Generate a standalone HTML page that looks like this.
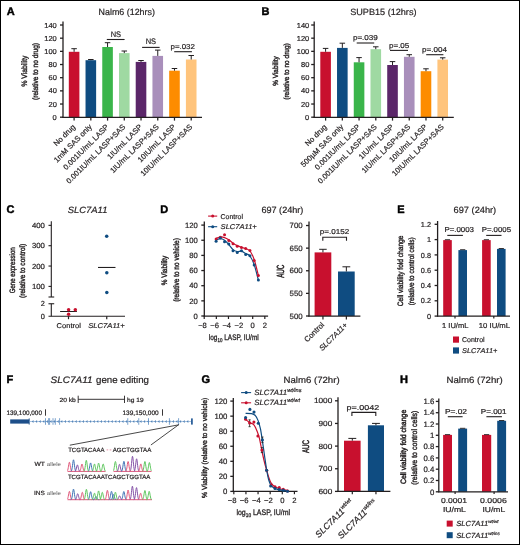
<!DOCTYPE html>
<html><head><meta charset="utf-8"><title>Figure</title>
<style>
html,body{margin:0;padding:0;background:#fff;overflow:hidden;}
svg{display:block;will-change:transform;}
text{font-family:"Liberation Sans", sans-serif;text-rendering:geometricPrecision;}
</style></head><body>
<svg width="520" height="545" viewBox="0 0 520 545">
<rect x="0" y="0" width="520" height="545" fill="#fff"/>
<g fill="#231f20">
<text x="6.8" y="14.8" font-weight="bold" font-size="11" fill="#000" stroke="#000" stroke-width="0.45">A</text>
<text x="98.6" y="15.1" stroke="#231f20" stroke-width="0.2" textLength="56.3" lengthAdjust="spacingAndGlyphs" font-size="9">Nalm6 (12hrs)</text>
<rect x="68.8" y="51.8" width="10.6" height="65.4" fill="#c8102e"/>
<line x1="74.1" y1="51.8" x2="74.1" y2="48.7" stroke="#231f20" stroke-width="1" />
<line x1="71.35" y1="48.7" x2="76.85" y2="48.7" stroke="#231f20" stroke-width="1" />
<rect x="85.53" y="60.2" width="10.6" height="57" fill="#0f4c81"/>
<line x1="90.83" y1="60.2" x2="90.83" y2="59.5" stroke="#231f20" stroke-width="1" />
<line x1="88.08" y1="59.5" x2="93.58" y2="59.5" stroke="#231f20" stroke-width="1" />
<rect x="102.26" y="47" width="10.6" height="70.2" fill="#3ab54a"/>
<line x1="107.56" y1="47" x2="107.56" y2="42.7" stroke="#231f20" stroke-width="1" />
<line x1="104.81" y1="42.7" x2="110.31" y2="42.7" stroke="#231f20" stroke-width="1" />
<rect x="118.99" y="53.1" width="10.6" height="64.1" fill="#9fd9a2"/>
<line x1="124.29" y1="53.1" x2="124.29" y2="51" stroke="#231f20" stroke-width="1" />
<line x1="121.54" y1="51" x2="127.04" y2="51" stroke="#231f20" stroke-width="1" />
<rect x="135.72" y="61.9" width="10.6" height="55.3" fill="#5b2669"/>
<line x1="141.02" y1="61.9" x2="141.02" y2="60.5" stroke="#231f20" stroke-width="1" />
<line x1="138.27" y1="60.5" x2="143.77" y2="60.5" stroke="#231f20" stroke-width="1" />
<rect x="152.45" y="55.9" width="10.6" height="61.3" fill="#a98fbb"/>
<line x1="157.75" y1="55.9" x2="157.75" y2="50.1" stroke="#231f20" stroke-width="1" />
<line x1="155" y1="50.1" x2="160.5" y2="50.1" stroke="#231f20" stroke-width="1" />
<rect x="169.18" y="70.7" width="10.6" height="46.5" fill="#fd8c00"/>
<line x1="174.48" y1="70.7" x2="174.48" y2="68.5" stroke="#231f20" stroke-width="1" />
<line x1="171.73" y1="68.5" x2="177.23" y2="68.5" stroke="#231f20" stroke-width="1" />
<rect x="185.91" y="59.5" width="10.6" height="57.7" fill="#ffc47c"/>
<line x1="191.21" y1="59.5" x2="191.21" y2="55.5" stroke="#231f20" stroke-width="1" />
<line x1="188.46" y1="55.5" x2="193.96" y2="55.5" stroke="#231f20" stroke-width="1" />
<line x1="63" y1="21.5" x2="63" y2="117.7" stroke="#231f20" stroke-width="1.3" />
<line x1="60" y1="117.2" x2="63" y2="117.2" stroke="#231f20" stroke-width="1.3" />
<text x="56.8" y="119.78" text-anchor="end" stroke="#231f20" stroke-width="0.2" textLength="4.16" lengthAdjust="spacingAndGlyphs" font-size="7.2">0</text>
<line x1="60" y1="104.03" x2="63" y2="104.03" stroke="#231f20" stroke-width="1.3" />
<text x="56.8" y="106.61" text-anchor="end" stroke="#231f20" stroke-width="0.2" textLength="8.33" lengthAdjust="spacingAndGlyphs" font-size="7.2">20</text>
<line x1="60" y1="90.86" x2="63" y2="90.86" stroke="#231f20" stroke-width="1.3" />
<text x="56.8" y="93.44" text-anchor="end" stroke="#231f20" stroke-width="0.2" textLength="8.33" lengthAdjust="spacingAndGlyphs" font-size="7.2">40</text>
<line x1="60" y1="77.69" x2="63" y2="77.69" stroke="#231f20" stroke-width="1.3" />
<text x="56.8" y="80.27" text-anchor="end" stroke="#231f20" stroke-width="0.2" textLength="8.33" lengthAdjust="spacingAndGlyphs" font-size="7.2">60</text>
<line x1="60" y1="64.52" x2="63" y2="64.52" stroke="#231f20" stroke-width="1.3" />
<text x="56.8" y="67.1" text-anchor="end" stroke="#231f20" stroke-width="0.2" textLength="8.33" lengthAdjust="spacingAndGlyphs" font-size="7.2">80</text>
<line x1="60" y1="51.35" x2="63" y2="51.35" stroke="#231f20" stroke-width="1.3" />
<text x="56.8" y="53.93" text-anchor="end" stroke="#231f20" stroke-width="0.2" textLength="12.49" lengthAdjust="spacingAndGlyphs" font-size="7.2">100</text>
<line x1="60" y1="38.18" x2="63" y2="38.18" stroke="#231f20" stroke-width="1.3" />
<text x="56.8" y="40.76" text-anchor="end" stroke="#231f20" stroke-width="0.2" textLength="12.49" lengthAdjust="spacingAndGlyphs" font-size="7.2">120</text>
<line x1="60" y1="25.01" x2="63" y2="25.01" stroke="#231f20" stroke-width="1.3" />
<text x="56.8" y="27.59" text-anchor="end" stroke="#231f20" stroke-width="0.2" textLength="12.49" lengthAdjust="spacingAndGlyphs" font-size="7.2">140</text>
<line x1="62.35" y1="117.4" x2="202" y2="117.4" stroke="#231f20" stroke-width="1.25" />
<line x1="74.1" y1="117.2" x2="74.1" y2="120.6" stroke="#231f20" stroke-width="1.25" />
<text transform="translate(75.7 127.4) rotate(-45)" text-anchor="end" stroke="#231f20" stroke-width="0.2" font-size="7.6">No drug</text>
<line x1="90.83" y1="117.2" x2="90.83" y2="120.6" stroke="#231f20" stroke-width="1.25" />
<text transform="translate(92.43 127.4) rotate(-45)" text-anchor="end" stroke="#231f20" stroke-width="0.2" font-size="7.6">1mM SAS only</text>
<line x1="107.56" y1="117.2" x2="107.56" y2="120.6" stroke="#231f20" stroke-width="1.25" />
<text transform="translate(109.16 127.4) rotate(-45)" text-anchor="end" stroke="#231f20" stroke-width="0.2" font-size="7.6">0.001IU/mL LASP</text>
<line x1="124.29" y1="117.2" x2="124.29" y2="120.6" stroke="#231f20" stroke-width="1.25" />
<text transform="translate(125.89 127.4) rotate(-45)" text-anchor="end" stroke="#231f20" stroke-width="0.2" font-size="7.6">0.001IU/mL LASP+SAS</text>
<line x1="141.02" y1="117.2" x2="141.02" y2="120.6" stroke="#231f20" stroke-width="1.25" />
<text transform="translate(142.62 127.4) rotate(-45)" text-anchor="end" stroke="#231f20" stroke-width="0.2" font-size="7.6">1IU/mL LASP</text>
<line x1="157.75" y1="117.2" x2="157.75" y2="120.6" stroke="#231f20" stroke-width="1.25" />
<text transform="translate(159.35 127.4) rotate(-45)" text-anchor="end" stroke="#231f20" stroke-width="0.2" font-size="7.6">1IU/mL LASP+SAS</text>
<line x1="174.48" y1="117.2" x2="174.48" y2="120.6" stroke="#231f20" stroke-width="1.25" />
<text transform="translate(176.08 127.4) rotate(-45)" text-anchor="end" stroke="#231f20" stroke-width="0.2" font-size="7.6">10IU/mL LASP</text>
<line x1="191.21" y1="117.2" x2="191.21" y2="120.6" stroke="#231f20" stroke-width="1.25" />
<text transform="translate(192.81 127.4) rotate(-45)" text-anchor="end" stroke="#231f20" stroke-width="0.2" font-size="7.6">10IU/mL LASP+SAS</text>
<text transform="translate(26.6 71) rotate(-90)" text-anchor="middle" stroke="#231f20" stroke-width="0.38" textLength="31" lengthAdjust="spacingAndGlyphs" font-size="7.9">% Viability</text>
<text transform="translate(37.9 71.5) rotate(-90)" text-anchor="middle" stroke="#231f20" stroke-width="0.38" textLength="57" lengthAdjust="spacingAndGlyphs" font-size="7.9">(relative to no drug)</text>
<text x="110.7" y="36.8" stroke="#231f20" stroke-width="0.2" textLength="10.4" lengthAdjust="spacingAndGlyphs" font-size="8">NS</text>
<line x1="106.8" y1="39.5" x2="124.6" y2="39.5" stroke="#231f20" stroke-width="1.1" />
<text x="145.7" y="44.2" stroke="#231f20" stroke-width="0.2" textLength="10.4" lengthAdjust="spacingAndGlyphs" font-size="8">NS</text>
<line x1="142.1" y1="47.4" x2="159.6" y2="47.4" stroke="#231f20" stroke-width="1.1" />
<text x="170.5" y="48.9" stroke="#231f20" stroke-width="0.2" textLength="24.4" lengthAdjust="spacingAndGlyphs" font-size="7.1">p=.032</text>
<line x1="174.2" y1="51.7" x2="191.9" y2="51.7" stroke="#231f20" stroke-width="1.1" />
<text x="261.5" y="14.9" font-weight="bold" font-size="11" fill="#000" stroke="#000" stroke-width="0.45">B</text>
<text x="350.2" y="15.3" stroke="#231f20" stroke-width="0.2" textLength="66.3" lengthAdjust="spacingAndGlyphs" font-size="9">SUPB15 (12hrs)</text>
<rect x="320.3" y="51.8" width="10.6" height="65.4" fill="#c8102e"/>
<line x1="325.6" y1="51.8" x2="325.6" y2="48.4" stroke="#231f20" stroke-width="1" />
<line x1="322.85" y1="48.4" x2="328.35" y2="48.4" stroke="#231f20" stroke-width="1" />
<rect x="337.03" y="47.9" width="10.6" height="69.3" fill="#0f4c81"/>
<line x1="342.33" y1="47.9" x2="342.33" y2="43.2" stroke="#231f20" stroke-width="1" />
<line x1="339.58" y1="43.2" x2="345.08" y2="43.2" stroke="#231f20" stroke-width="1" />
<rect x="353.76" y="62.3" width="10.6" height="54.9" fill="#3ab54a"/>
<line x1="359.06" y1="62.3" x2="359.06" y2="57.6" stroke="#231f20" stroke-width="1" />
<line x1="356.31" y1="57.6" x2="361.81" y2="57.6" stroke="#231f20" stroke-width="1" />
<rect x="370.49" y="49.2" width="10.6" height="68" fill="#9fd9a2"/>
<line x1="375.79" y1="49.2" x2="375.79" y2="46.8" stroke="#231f20" stroke-width="1" />
<line x1="373.04" y1="46.8" x2="378.54" y2="46.8" stroke="#231f20" stroke-width="1" />
<rect x="387.22" y="65" width="10.6" height="52.2" fill="#5b2669"/>
<line x1="392.52" y1="65" x2="392.52" y2="61.6" stroke="#231f20" stroke-width="1" />
<line x1="389.77" y1="61.6" x2="395.27" y2="61.6" stroke="#231f20" stroke-width="1" />
<rect x="403.95" y="56.8" width="10.6" height="60.4" fill="#a98fbb"/>
<line x1="409.25" y1="56.8" x2="409.25" y2="54.7" stroke="#231f20" stroke-width="1" />
<line x1="406.5" y1="54.7" x2="412" y2="54.7" stroke="#231f20" stroke-width="1" />
<rect x="420.68" y="71.2" width="10.6" height="46" fill="#fd8c00"/>
<line x1="425.98" y1="71.2" x2="425.98" y2="68.8" stroke="#231f20" stroke-width="1" />
<line x1="423.23" y1="68.8" x2="428.73" y2="68.8" stroke="#231f20" stroke-width="1" />
<rect x="437.41" y="59.6" width="10.6" height="57.6" fill="#ffc47c"/>
<line x1="442.71" y1="59.6" x2="442.71" y2="57.8" stroke="#231f20" stroke-width="1" />
<line x1="439.96" y1="57.8" x2="445.46" y2="57.8" stroke="#231f20" stroke-width="1" />
<line x1="314.2" y1="21.5" x2="314.2" y2="117.7" stroke="#231f20" stroke-width="1.3" />
<line x1="311.2" y1="117.2" x2="314.2" y2="117.2" stroke="#231f20" stroke-width="1.3" />
<text x="309.3" y="119.78" text-anchor="end" stroke="#231f20" stroke-width="0.2" textLength="4.16" lengthAdjust="spacingAndGlyphs" font-size="7.2">0</text>
<line x1="311.2" y1="104.03" x2="314.2" y2="104.03" stroke="#231f20" stroke-width="1.3" />
<text x="309.3" y="106.61" text-anchor="end" stroke="#231f20" stroke-width="0.2" textLength="8.33" lengthAdjust="spacingAndGlyphs" font-size="7.2">20</text>
<line x1="311.2" y1="90.86" x2="314.2" y2="90.86" stroke="#231f20" stroke-width="1.3" />
<text x="309.3" y="93.44" text-anchor="end" stroke="#231f20" stroke-width="0.2" textLength="8.33" lengthAdjust="spacingAndGlyphs" font-size="7.2">40</text>
<line x1="311.2" y1="77.69" x2="314.2" y2="77.69" stroke="#231f20" stroke-width="1.3" />
<text x="309.3" y="80.27" text-anchor="end" stroke="#231f20" stroke-width="0.2" textLength="8.33" lengthAdjust="spacingAndGlyphs" font-size="7.2">60</text>
<line x1="311.2" y1="64.52" x2="314.2" y2="64.52" stroke="#231f20" stroke-width="1.3" />
<text x="309.3" y="67.1" text-anchor="end" stroke="#231f20" stroke-width="0.2" textLength="8.33" lengthAdjust="spacingAndGlyphs" font-size="7.2">80</text>
<line x1="311.2" y1="51.35" x2="314.2" y2="51.35" stroke="#231f20" stroke-width="1.3" />
<text x="309.3" y="53.93" text-anchor="end" stroke="#231f20" stroke-width="0.2" textLength="12.49" lengthAdjust="spacingAndGlyphs" font-size="7.2">100</text>
<line x1="311.2" y1="38.18" x2="314.2" y2="38.18" stroke="#231f20" stroke-width="1.3" />
<text x="309.3" y="40.76" text-anchor="end" stroke="#231f20" stroke-width="0.2" textLength="12.49" lengthAdjust="spacingAndGlyphs" font-size="7.2">120</text>
<line x1="311.2" y1="25.01" x2="314.2" y2="25.01" stroke="#231f20" stroke-width="1.3" />
<text x="309.3" y="27.59" text-anchor="end" stroke="#231f20" stroke-width="0.2" textLength="12.49" lengthAdjust="spacingAndGlyphs" font-size="7.2">140</text>
<line x1="313.55" y1="117.4" x2="453.8" y2="117.4" stroke="#231f20" stroke-width="1.25" />
<line x1="325.6" y1="117.2" x2="325.6" y2="120.6" stroke="#231f20" stroke-width="1.25" />
<text transform="translate(327.2 127.4) rotate(-45)" text-anchor="end" stroke="#231f20" stroke-width="0.2" font-size="7.6">No drug</text>
<line x1="342.33" y1="117.2" x2="342.33" y2="120.6" stroke="#231f20" stroke-width="1.25" />
<text transform="translate(343.93 127.4) rotate(-45)" text-anchor="end" stroke="#231f20" stroke-width="0.2" font-size="7.6">500&#181;M SAS only</text>
<line x1="359.06" y1="117.2" x2="359.06" y2="120.6" stroke="#231f20" stroke-width="1.25" />
<text transform="translate(360.66 127.4) rotate(-45)" text-anchor="end" stroke="#231f20" stroke-width="0.2" font-size="7.6">0.001IU/mL LASP</text>
<line x1="375.79" y1="117.2" x2="375.79" y2="120.6" stroke="#231f20" stroke-width="1.25" />
<text transform="translate(377.39 127.4) rotate(-45)" text-anchor="end" stroke="#231f20" stroke-width="0.2" font-size="7.6">0.001IU/mL LASP+SAS</text>
<line x1="392.52" y1="117.2" x2="392.52" y2="120.6" stroke="#231f20" stroke-width="1.25" />
<text transform="translate(394.12 127.4) rotate(-45)" text-anchor="end" stroke="#231f20" stroke-width="0.2" font-size="7.6">1IU/mL LASP</text>
<line x1="409.25" y1="117.2" x2="409.25" y2="120.6" stroke="#231f20" stroke-width="1.25" />
<text transform="translate(410.85 127.4) rotate(-45)" text-anchor="end" stroke="#231f20" stroke-width="0.2" font-size="7.6">1IU/mL LASP+SAS</text>
<line x1="425.98" y1="117.2" x2="425.98" y2="120.6" stroke="#231f20" stroke-width="1.25" />
<text transform="translate(427.58 127.4) rotate(-45)" text-anchor="end" stroke="#231f20" stroke-width="0.2" font-size="7.6">10IU/mL LASP</text>
<line x1="442.71" y1="117.2" x2="442.71" y2="120.6" stroke="#231f20" stroke-width="1.25" />
<text transform="translate(444.31 127.4) rotate(-45)" text-anchor="end" stroke="#231f20" stroke-width="0.2" font-size="7.6">10IU/mL LASP+SAS</text>
<text transform="translate(277.8 71) rotate(-90)" text-anchor="middle" stroke="#231f20" stroke-width="0.38" textLength="29.5" lengthAdjust="spacingAndGlyphs" font-size="7.5">% Viability</text>
<text transform="translate(289 71.5) rotate(-90)" text-anchor="middle" stroke="#231f20" stroke-width="0.38" textLength="56.5" lengthAdjust="spacingAndGlyphs" font-size="7.5">(relative to no drug)</text>
<text x="352.9" y="40.3" stroke="#231f20" stroke-width="0.2" textLength="25" lengthAdjust="spacingAndGlyphs" font-size="7.1">p=.039</text>
<line x1="356.7" y1="43" x2="374.2" y2="43" stroke="#231f20" stroke-width="1.1" />
<text x="389" y="47.7" stroke="#231f20" stroke-width="0.2" textLength="20.3" lengthAdjust="spacingAndGlyphs" font-size="7.1">p=.05</text>
<line x1="390" y1="50.4" x2="408" y2="50.4" stroke="#231f20" stroke-width="1.1" />
<text x="422.1" y="52.3" stroke="#231f20" stroke-width="0.2" textLength="24.9" lengthAdjust="spacingAndGlyphs" font-size="7.1">p=.004</text>
<line x1="426.2" y1="54.7" x2="443.4" y2="54.7" stroke="#231f20" stroke-width="1.1" />
<text x="6.5" y="213.2" font-weight="bold" font-size="11" fill="#000" stroke="#000" stroke-width="0.45">C</text>
<text x="67.8" y="213.1" stroke="#231f20" stroke-width="0.2" font-style="italic" textLength="39.6" lengthAdjust="spacingAndGlyphs" font-size="9">SLC7A11</text>
<line x1="51.3" y1="221.2" x2="51.3" y2="297" stroke="#231f20" stroke-width="1.1" />
<line x1="48.5" y1="297" x2="54.2" y2="297" stroke="#231f20" stroke-width="1.1" />
<line x1="51.3" y1="303.75" x2="51.3" y2="316.25" stroke="#231f20" stroke-width="1.1" />
<line x1="48.5" y1="303.75" x2="54.2" y2="303.75" stroke="#231f20" stroke-width="1.1" />
<line x1="48.5" y1="286.4" x2="51.3" y2="286.4" stroke="#231f20" stroke-width="1.1" />
<text x="44.9" y="289.05" text-anchor="end" stroke="#231f20" stroke-width="0.2" textLength="12.96" lengthAdjust="spacingAndGlyphs" font-size="7.4">100</text>
<line x1="48.5" y1="266.05" x2="51.3" y2="266.05" stroke="#231f20" stroke-width="1.1" />
<text x="44.9" y="268.7" text-anchor="end" stroke="#231f20" stroke-width="0.2" textLength="12.96" lengthAdjust="spacingAndGlyphs" font-size="7.4">200</text>
<line x1="48.5" y1="245.7" x2="51.3" y2="245.7" stroke="#231f20" stroke-width="1.1" />
<text x="44.9" y="248.35" text-anchor="end" stroke="#231f20" stroke-width="0.2" textLength="12.96" lengthAdjust="spacingAndGlyphs" font-size="7.4">300</text>
<line x1="48.5" y1="225.35" x2="51.3" y2="225.35" stroke="#231f20" stroke-width="1.1" />
<text x="44.9" y="228" text-anchor="end" stroke="#231f20" stroke-width="0.2" textLength="12.96" lengthAdjust="spacingAndGlyphs" font-size="7.4">400</text>
<text x="44.9" y="306.4" text-anchor="end" stroke="#231f20" stroke-width="0.2" font-size="7.4">2</text>
<text x="44.9" y="318.9" text-anchor="end" stroke="#231f20" stroke-width="0.2" font-size="7.4">0</text>
<line x1="48.5" y1="316.25" x2="125" y2="316.25" stroke="#231f20" stroke-width="1.1" />
<line x1="68.5" y1="316.25" x2="68.5" y2="319.2" stroke="#231f20" stroke-width="1.2" />
<line x1="106.75" y1="316.25" x2="106.75" y2="319.2" stroke="#231f20" stroke-width="1.2" />
<text x="68.8" y="327.8" text-anchor="middle" stroke="#231f20" stroke-width="0.2" textLength="24.4" lengthAdjust="spacingAndGlyphs" font-size="7">Control</text>
<text x="106.5" y="327.8" text-anchor="middle" stroke="#231f20" stroke-width="0.2" font-style="italic" textLength="36.5" lengthAdjust="spacingAndGlyphs" font-size="7">SLC7A11+</text>
<line x1="60.1" y1="311.5" x2="76.9" y2="311.5" stroke="#231f20" stroke-width="1.05" />
<line x1="98" y1="267.45" x2="115.5" y2="267.45" stroke="#231f20" stroke-width="1.05" />
<circle cx="68.6" cy="309.8" r="1.75" fill="#c8102e"/>
<circle cx="75.3" cy="309.8" r="1.75" fill="#c8102e"/>
<circle cx="68.6" cy="314.3" r="1.75" fill="#c8102e"/>
<circle cx="106.7" cy="236.2" r="1.75" fill="#0f4c81"/>
<circle cx="106.8" cy="272.7" r="1.75" fill="#0f4c81"/>
<circle cx="106.8" cy="292.6" r="1.75" fill="#0f4c81"/>
<text transform="translate(14.5 270.3) rotate(-90)" text-anchor="middle" stroke="#231f20" stroke-width="0.38" textLength="45.9" lengthAdjust="spacingAndGlyphs" font-size="7.8">Gene expression</text>
<text transform="translate(25.4 270.9) rotate(-90)" text-anchor="middle" stroke="#231f20" stroke-width="0.38" textLength="54.1" lengthAdjust="spacingAndGlyphs" font-size="7.8">(relative to control)</text>
<text x="160.3" y="213" font-weight="bold" font-size="11" fill="#000" stroke="#000" stroke-width="0.45">D</text>
<text x="261.4" y="212.7" stroke="#231f20" stroke-width="0.2" textLength="42" lengthAdjust="spacingAndGlyphs" font-size="9">697 (24hr)</text>
<line x1="208.1" y1="216.1" x2="217.2" y2="216.1" stroke="#c8102e" stroke-width="1.1" />
<circle cx="212.7" cy="216.1" r="1.5" fill="#c8102e"/>
<text x="220.6" y="218.6" stroke="#231f20" stroke-width="0.2" textLength="22.4" lengthAdjust="spacingAndGlyphs" font-size="7">Control</text>
<line x1="208.1" y1="226.7" x2="217.2" y2="226.7" stroke="#0f4c81" stroke-width="1.1" />
<circle cx="212.7" cy="226.7" r="1.5" fill="#0f4c81"/>
<text x="220.6" y="229.2" stroke="#231f20" stroke-width="0.2" font-style="italic" textLength="36.2" lengthAdjust="spacingAndGlyphs" font-size="7">SLC7A11+</text>
<line x1="204.3" y1="221.4" x2="204.3" y2="316.5" stroke="#231f20" stroke-width="1.3" />
<line x1="201.3" y1="316" x2="204.3" y2="316" stroke="#231f20" stroke-width="1.3" />
<text x="197.9" y="318.76" text-anchor="end" stroke="#231f20" stroke-width="0.2" font-size="7.7">0</text>
<line x1="201.3" y1="300.85" x2="204.3" y2="300.85" stroke="#231f20" stroke-width="1.3" />
<text x="197.9" y="303.61" text-anchor="end" stroke="#231f20" stroke-width="0.2" font-size="7.7">20</text>
<line x1="201.3" y1="285.7" x2="204.3" y2="285.7" stroke="#231f20" stroke-width="1.3" />
<text x="197.9" y="288.46" text-anchor="end" stroke="#231f20" stroke-width="0.2" font-size="7.7">40</text>
<line x1="201.3" y1="270.55" x2="204.3" y2="270.55" stroke="#231f20" stroke-width="1.3" />
<text x="197.9" y="273.31" text-anchor="end" stroke="#231f20" stroke-width="0.2" font-size="7.7">60</text>
<line x1="201.3" y1="255.4" x2="204.3" y2="255.4" stroke="#231f20" stroke-width="1.3" />
<text x="197.9" y="258.16" text-anchor="end" stroke="#231f20" stroke-width="0.2" font-size="7.7">80</text>
<line x1="201.3" y1="240.25" x2="204.3" y2="240.25" stroke="#231f20" stroke-width="1.3" />
<text x="197.9" y="243.01" text-anchor="end" stroke="#231f20" stroke-width="0.2" font-size="7.7">100</text>
<line x1="201.3" y1="225.1" x2="204.3" y2="225.1" stroke="#231f20" stroke-width="1.3" />
<text x="197.9" y="227.86" text-anchor="end" stroke="#231f20" stroke-width="0.2" font-size="7.7">120</text>
<line x1="203.75" y1="316" x2="268.1" y2="316" stroke="#231f20" stroke-width="1.25" />
<line x1="204.22" y1="316" x2="204.22" y2="319" stroke="#231f20" stroke-width="1.2" />
<text x="202.52" y="327.6" text-anchor="middle" stroke="#231f20" stroke-width="0.2" font-size="7.6">&#8722;8</text>
<line x1="216.34" y1="316" x2="216.34" y2="319" stroke="#231f20" stroke-width="1.2" />
<text x="214.64" y="327.6" text-anchor="middle" stroke="#231f20" stroke-width="0.2" font-size="7.6">&#8722;6</text>
<line x1="228.46" y1="316" x2="228.46" y2="319" stroke="#231f20" stroke-width="1.2" />
<text x="226.76" y="327.6" text-anchor="middle" stroke="#231f20" stroke-width="0.2" font-size="7.6">&#8722;4</text>
<line x1="240.58" y1="316" x2="240.58" y2="319" stroke="#231f20" stroke-width="1.2" />
<text x="238.88" y="327.6" text-anchor="middle" stroke="#231f20" stroke-width="0.2" font-size="7.6">&#8722;2</text>
<line x1="252.7" y1="316" x2="252.7" y2="319" stroke="#231f20" stroke-width="1.2" />
<text x="252.7" y="327.6" text-anchor="middle" stroke="#231f20" stroke-width="0.2" font-size="7.6">0</text>
<line x1="264.82" y1="316" x2="264.82" y2="319" stroke="#231f20" stroke-width="1.2" />
<text x="264.82" y="327.6" text-anchor="middle" stroke="#231f20" stroke-width="0.2" font-size="7.6">2</text>
<text x="208.8" y="340.0" font-size="8" stroke="#231f20" stroke-width="0.3" textLength="50" lengthAdjust="spacingAndGlyphs">log<tspan font-size="5.5" dy="1.8">10</tspan><tspan dy="-1.8"> LASP, IU/ml</tspan></text>
<text transform="translate(166.7 270.5) rotate(-90)" text-anchor="middle" stroke="#231f20" stroke-width="0.38" textLength="29.5" lengthAdjust="spacingAndGlyphs" font-size="7.9">% Viability</text>
<text transform="translate(178.6 270) rotate(-90)" text-anchor="middle" stroke="#231f20" stroke-width="0.38" textLength="63.6" lengthAdjust="spacingAndGlyphs" font-size="8">(relative to no vehicle)</text>
<path d="M216.1 240.2 C216.81 239.93 218.92 238.6 220.33 238.6 C221.74 238.6 223.15 239.2 224.56 240.2 C225.97 241.2 227.38 243.03 228.79 244.6 C230.2 246.17 231.61 248.43 233.02 249.6 C234.43 250.77 235.84 251.33 237.25 251.6 C238.66 251.87 240.07 250.87 241.48 251.2 C242.89 251.53 244.3 252.8 245.71 253.6 C247.12 254.4 248.53 254.17 249.94 256 C251.35 257.83 252.76 260.58 254.17 264.6 C255.58 268.62 257.69 277.52 258.4 280.1" stroke="#0f4c81" stroke-width="1.2" fill="none" />
<path d="M216.1 238.5 C216.81 238.25 218.92 237.15 220.33 237 C221.74 236.85 223.15 237.13 224.56 237.6 C225.97 238.07 227.38 238.87 228.79 239.8 C230.2 240.73 231.61 242.23 233.02 243.2 C234.43 244.17 235.84 244.92 237.25 245.6 C238.66 246.28 240.07 246.8 241.48 247.3 C242.89 247.8 244.3 247.98 245.71 248.6 C247.12 249.22 248.53 249.18 249.94 251 C251.35 252.82 252.76 255.42 254.17 259.5 C255.58 263.58 257.69 272.83 258.4 275.5" stroke="#c8102e" stroke-width="1.2" fill="none" />
<circle cx="216.1" cy="239" r="1.5" fill="#c8102e"/>
<circle cx="220.33" cy="237.3" r="1.5" fill="#c8102e"/>
<circle cx="224.56" cy="234.8" r="1.5" fill="#c8102e"/>
<circle cx="228.79" cy="240.5" r="1.5" fill="#c8102e"/>
<circle cx="233.02" cy="243.8" r="1.5" fill="#c8102e"/>
<circle cx="237.25" cy="246.3" r="1.5" fill="#c8102e"/>
<circle cx="241.48" cy="247.6" r="1.5" fill="#c8102e"/>
<circle cx="245.71" cy="248.5" r="1.5" fill="#c8102e"/>
<circle cx="249.94" cy="250.6" r="1.5" fill="#c8102e"/>
<circle cx="254.17" cy="260.5" r="1.5" fill="#c8102e"/>
<circle cx="258.4" cy="275.5" r="1.5" fill="#c8102e"/>
<circle cx="216.1" cy="241.2" r="1.5" fill="#0f4c81"/>
<circle cx="220.33" cy="238" r="1.5" fill="#0f4c81"/>
<circle cx="224.56" cy="241.8" r="1.5" fill="#0f4c81"/>
<circle cx="228.79" cy="244.1" r="1.5" fill="#0f4c81"/>
<circle cx="233.02" cy="250.8" r="1.5" fill="#0f4c81"/>
<circle cx="237.25" cy="252.4" r="1.5" fill="#0f4c81"/>
<circle cx="241.48" cy="250.8" r="1.5" fill="#0f4c81"/>
<circle cx="245.71" cy="254.4" r="1.5" fill="#0f4c81"/>
<circle cx="249.94" cy="255.7" r="1.5" fill="#0f4c81"/>
<circle cx="254.17" cy="265" r="1.5" fill="#0f4c81"/>
<circle cx="258.4" cy="280.1" r="1.5" fill="#0f4c81"/>
<rect x="314.6" y="252.4" width="16.7" height="63.6" fill="#c8102e"/>
<rect x="338" y="271.5" width="16.7" height="44.5" fill="#0f4c81"/>
<line x1="322.95" y1="252.4" x2="322.95" y2="249.3" stroke="#231f20" stroke-width="1" />
<line x1="319.2" y1="249.3" x2="326.7" y2="249.3" stroke="#231f20" stroke-width="1" />
<line x1="346.35" y1="271.5" x2="346.35" y2="266.8" stroke="#231f20" stroke-width="1" />
<line x1="342.45" y1="266.8" x2="350.25" y2="266.8" stroke="#231f20" stroke-width="1" />
<line x1="309" y1="221.6" x2="309" y2="316.5" stroke="#231f20" stroke-width="1.3" />
<line x1="306" y1="316" x2="309" y2="316" stroke="#231f20" stroke-width="1.3" />
<text x="302.6" y="318.72" text-anchor="end" stroke="#231f20" stroke-width="0.2" textLength="13.06" lengthAdjust="spacingAndGlyphs" font-size="7.6">500</text>
<line x1="306" y1="293.38" x2="309" y2="293.38" stroke="#231f20" stroke-width="1.3" />
<text x="302.6" y="296.1" text-anchor="end" stroke="#231f20" stroke-width="0.2" textLength="13.06" lengthAdjust="spacingAndGlyphs" font-size="7.6">550</text>
<line x1="306" y1="270.76" x2="309" y2="270.76" stroke="#231f20" stroke-width="1.3" />
<text x="302.6" y="273.48" text-anchor="end" stroke="#231f20" stroke-width="0.2" textLength="13.06" lengthAdjust="spacingAndGlyphs" font-size="7.6">600</text>
<line x1="306" y1="248.14" x2="309" y2="248.14" stroke="#231f20" stroke-width="1.3" />
<text x="302.6" y="250.86" text-anchor="end" stroke="#231f20" stroke-width="0.2" textLength="13.06" lengthAdjust="spacingAndGlyphs" font-size="7.6">650</text>
<line x1="306" y1="225.52" x2="309" y2="225.52" stroke="#231f20" stroke-width="1.3" />
<text x="302.6" y="228.24" text-anchor="end" stroke="#231f20" stroke-width="0.2" textLength="13.06" lengthAdjust="spacingAndGlyphs" font-size="7.6">700</text>
<line x1="308.45" y1="316" x2="360.4" y2="316" stroke="#231f20" stroke-width="1.25" />
<line x1="322.95" y1="316" x2="322.95" y2="319.4" stroke="#231f20" stroke-width="1.2" />
<line x1="346.35" y1="316" x2="346.35" y2="319.4" stroke="#231f20" stroke-width="1.2" />
<text x="319.8" y="233.7" stroke="#231f20" stroke-width="0.2" textLength="29.5" lengthAdjust="spacingAndGlyphs" font-size="7.1">p=.0152</text>
<path d="M322.8 240.7 V237.3 H346.5 V240.7" stroke="#231f20" stroke-width="1.1" fill="none" />
<text transform="translate(283.9 271.3) rotate(-90)" text-anchor="middle" stroke="#231f20" stroke-width="0.5" textLength="13.1" lengthAdjust="spacingAndGlyphs" font-size="10.4">AUC</text>
<text transform="translate(324.6 325.2) rotate(-45)" text-anchor="end" stroke="#231f20" stroke-width="0.2" font-size="7.6">Control</text>
<text transform="translate(348 325.6) rotate(-45)" text-anchor="end" stroke="#231f20" stroke-width="0.2" font-style="italic" font-size="7.6">SLC7A11+</text>
<text x="397.2" y="213" font-weight="bold" font-size="11" fill="#000" stroke="#000" stroke-width="0.45">E</text>
<text x="453.6" y="213" stroke="#231f20" stroke-width="0.2" textLength="42.6" lengthAdjust="spacingAndGlyphs" font-size="9">697 (24hr)</text>
<rect x="443.2" y="240.1" width="8.6" height="76" fill="#c8102e"/>
<rect x="458.4" y="250.1" width="8.6" height="66" fill="#0f4c81"/>
<rect x="482.1" y="240.1" width="8.6" height="76" fill="#c8102e"/>
<rect x="497" y="248.9" width="8.6" height="67.2" fill="#0f4c81"/>
<line x1="444.9" y1="239.7" x2="450.1" y2="239.7" stroke="#231f20" stroke-width="0.9" />
<line x1="460.1" y1="249.7" x2="465.3" y2="249.7" stroke="#231f20" stroke-width="0.9" />
<line x1="483.8" y1="239.7" x2="489" y2="239.7" stroke="#231f20" stroke-width="0.9" />
<line x1="498.7" y1="248.5" x2="503.9" y2="248.5" stroke="#231f20" stroke-width="0.9" />
<line x1="437.6" y1="221" x2="437.6" y2="316.6" stroke="#231f20" stroke-width="1.3" />
<line x1="434.6" y1="316.1" x2="437.6" y2="316.1" stroke="#231f20" stroke-width="1.3" />
<text x="431" y="318.71" text-anchor="end" stroke="#231f20" stroke-width="0.2" font-size="7.3">0</text>
<line x1="434.6" y1="300.8" x2="437.6" y2="300.8" stroke="#231f20" stroke-width="1.3" />
<text x="431" y="303.41" text-anchor="end" stroke="#231f20" stroke-width="0.2" font-size="7.3">0.2</text>
<line x1="434.6" y1="285.5" x2="437.6" y2="285.5" stroke="#231f20" stroke-width="1.3" />
<text x="431" y="288.11" text-anchor="end" stroke="#231f20" stroke-width="0.2" font-size="7.3">0.4</text>
<line x1="434.6" y1="270.2" x2="437.6" y2="270.2" stroke="#231f20" stroke-width="1.3" />
<text x="431" y="272.81" text-anchor="end" stroke="#231f20" stroke-width="0.2" font-size="7.3">0.6</text>
<line x1="434.6" y1="254.9" x2="437.6" y2="254.9" stroke="#231f20" stroke-width="1.3" />
<text x="431" y="257.51" text-anchor="end" stroke="#231f20" stroke-width="0.2" font-size="7.3">0.8</text>
<line x1="434.6" y1="239.6" x2="437.6" y2="239.6" stroke="#231f20" stroke-width="1.3" />
<text x="431" y="242.21" text-anchor="end" stroke="#231f20" stroke-width="0.2" font-size="7.3">1</text>
<line x1="434.6" y1="224.3" x2="437.6" y2="224.3" stroke="#231f20" stroke-width="1.3" />
<text x="431" y="226.91" text-anchor="end" stroke="#231f20" stroke-width="0.2" font-size="7.3">1.2</text>
<line x1="437.05" y1="316.1" x2="510" y2="316.1" stroke="#231f20" stroke-width="1.25" />
<line x1="455" y1="316.1" x2="455" y2="318.4" stroke="#231f20" stroke-width="1.2" />
<line x1="493.8" y1="316.1" x2="493.8" y2="318.4" stroke="#231f20" stroke-width="1.2" />
<text x="444.4" y="232.3" stroke="#231f20" stroke-width="0.2" textLength="29.6" lengthAdjust="spacingAndGlyphs" font-size="7.2">P=.0003</text>
<line x1="447.3" y1="235.4" x2="462.9" y2="235.4" stroke="#231f20" stroke-width="1.1" />
<text x="481.7" y="232.3" stroke="#231f20" stroke-width="0.2" textLength="29.3" lengthAdjust="spacingAndGlyphs" font-size="7.2">P=.0005</text>
<line x1="486.2" y1="235.4" x2="501.5" y2="235.4" stroke="#231f20" stroke-width="1.1" />
<text x="442" y="327.8" stroke="#231f20" stroke-width="0.2" textLength="26.4" lengthAdjust="spacingAndGlyphs" font-size="7.2">1 IU/mL</text>
<text x="478.8" y="327.8" stroke="#231f20" stroke-width="0.2" textLength="31.3" lengthAdjust="spacingAndGlyphs" font-size="7.2">10 IU/mL</text>
<rect x="453" y="336.5" width="6" height="6.2" fill="#c8102e"/>
<text x="462" y="342.2" stroke="#231f20" stroke-width="0.2" textLength="22.6" lengthAdjust="spacingAndGlyphs" font-size="7">Control</text>
<rect x="453" y="347.4" width="6" height="6.2" fill="#0f4c81"/>
<text x="462" y="353.1" stroke="#231f20" stroke-width="0.2" font-style="italic" textLength="35.3" lengthAdjust="spacingAndGlyphs" font-size="7">SLC7A11+</text>
<text transform="translate(403.1 270.9) rotate(-90)" text-anchor="middle" stroke="#231f20" stroke-width="0.38" textLength="70.6" lengthAdjust="spacingAndGlyphs" font-size="7.8">Cell viability fold change</text>
<text transform="translate(414.1 271.4) rotate(-90)" text-anchor="middle" stroke="#231f20" stroke-width="0.38" textLength="67.9" lengthAdjust="spacingAndGlyphs" font-size="7.8">(relative to control cells)</text>
<text x="6.5" y="382.6" font-weight="bold" font-size="11" fill="#000" stroke="#000" stroke-width="0.45">F</text>
<text x="50.6" y="383.1" stroke="#231f20" stroke-width="0.2" font-style="italic" textLength="41.9" lengthAdjust="spacingAndGlyphs" font-size="9.4">SLC7A11</text>
<text x="96" y="383.1" stroke="#231f20" stroke-width="0.2" textLength="53" lengthAdjust="spacingAndGlyphs" font-size="9.4">gene editing</text>
<text x="59.5" y="401.5" stroke="#231f20" stroke-width="0.2" textLength="16.3" lengthAdjust="spacingAndGlyphs" font-size="6.1">20 kb</text>
<line x1="78.2" y1="395.7" x2="78.2" y2="403" stroke="#231f20" stroke-width="0.9" />
<line x1="78.2" y1="399.3" x2="124.5" y2="399.3" stroke="#231f20" stroke-width="0.9" />
<line x1="124.5" y1="395.7" x2="124.5" y2="403" stroke="#231f20" stroke-width="0.9" />
<text x="127.1" y="401.5" stroke="#231f20" stroke-width="0.2" textLength="16.5" lengthAdjust="spacingAndGlyphs" font-size="6.1">hg 19</text>
<text x="6.4" y="414.8" stroke="#231f20" stroke-width="0.2" textLength="35.6" lengthAdjust="spacingAndGlyphs" font-size="6.4">139,100,000</text>
<line x1="45.5" y1="409.3" x2="45.5" y2="415.7" stroke="#231f20" stroke-width="0.9" />
<text x="122.5" y="414.8" stroke="#231f20" stroke-width="0.2" textLength="36.2" lengthAdjust="spacingAndGlyphs" font-size="6.4">139,150,000</text>
<line x1="162.5" y1="409.3" x2="162.5" y2="415.7" stroke="#231f20" stroke-width="0.9" />
<rect x="10.2" y="419.4" width="19" height="4.2" fill="#1d4f8a"/>
<line x1="29.2" y1="418.4" x2="29.2" y2="424.6" stroke="#1d4f8a" stroke-width="0.9" />
<line x1="29.2" y1="421.5" x2="191" y2="421.5" stroke="#6f9acb" stroke-width="0.6" />
<rect x="191" y="418.4" width="1.8" height="6.2" fill="#2f629c"/>
<path d="M33.5 419.9 L31.8 421.5 L33.5 423.1 Z M37.1 419.9 L35.4 421.5 L37.1 423.1 Z M40.7 419.9 L39 421.5 L40.7 423.1 Z M44.3 419.9 L42.6 421.5 L44.3 423.1 Z M47.9 419.9 L46.2 421.5 L47.9 423.1 Z M51.5 419.9 L49.8 421.5 L51.5 423.1 Z M55.1 419.9 L53.4 421.5 L55.1 423.1 Z M58.7 419.9 L57 421.5 L58.7 423.1 Z M62.3 419.9 L60.6 421.5 L62.3 423.1 Z M65.9 419.9 L64.2 421.5 L65.9 423.1 Z M69.5 419.9 L67.8 421.5 L69.5 423.1 Z M73.1 419.9 L71.4 421.5 L73.1 423.1 Z M76.7 419.9 L75 421.5 L76.7 423.1 Z M80.3 419.9 L78.6 421.5 L80.3 423.1 Z M83.9 419.9 L82.2 421.5 L83.9 423.1 Z M87.5 419.9 L85.8 421.5 L87.5 423.1 Z M91.1 419.9 L89.4 421.5 L91.1 423.1 Z M94.7 419.9 L93 421.5 L94.7 423.1 Z M98.3 419.9 L96.6 421.5 L98.3 423.1 Z M101.9 419.9 L100.2 421.5 L101.9 423.1 Z M105.5 419.9 L103.8 421.5 L105.5 423.1 Z M109.1 419.9 L107.4 421.5 L109.1 423.1 Z M112.7 419.9 L111 421.5 L112.7 423.1 Z M116.3 419.9 L114.6 421.5 L116.3 423.1 Z M119.9 419.9 L118.2 421.5 L119.9 423.1 Z M123.5 419.9 L121.8 421.5 L123.5 423.1 Z M127.1 419.9 L125.4 421.5 L127.1 423.1 Z M130.7 419.9 L129 421.5 L130.7 423.1 Z M134.3 419.9 L132.6 421.5 L134.3 423.1 Z M137.9 419.9 L136.2 421.5 L137.9 423.1 Z M141.5 419.9 L139.8 421.5 L141.5 423.1 Z M145.1 419.9 L143.4 421.5 L145.1 423.1 Z M148.7 419.9 L147 421.5 L148.7 423.1 Z M152.3 419.9 L150.6 421.5 L152.3 423.1 Z M155.9 419.9 L154.2 421.5 L155.9 423.1 Z M159.5 419.9 L157.8 421.5 L159.5 423.1 Z M163.1 419.9 L161.4 421.5 L163.1 423.1 Z M166.7 419.9 L165 421.5 L166.7 423.1 Z M170.3 419.9 L168.6 421.5 L170.3 423.1 Z M173.9 419.9 L172.2 421.5 L173.9 423.1 Z M177.5 419.9 L175.8 421.5 L177.5 423.1 Z M181.1 419.9 L179.4 421.5 L181.1 423.1 Z M184.7 419.9 L183 421.5 L184.7 423.1 Z M188.3 419.9 L186.6 421.5 L188.3 423.1 Z " stroke="none" stroke-width="0" fill="#5585b8" />
<line x1="45.5" y1="418.2" x2="45.5" y2="424.8" stroke="#5a8cc0" stroke-width="0.8" />
<line x1="48.6" y1="418.2" x2="48.6" y2="424.8" stroke="#5a8cc0" stroke-width="0.8" />
<line x1="49.6" y1="418.2" x2="49.6" y2="424.8" stroke="#5a8cc0" stroke-width="0.8" />
<line x1="53" y1="418.2" x2="53" y2="424.8" stroke="#5a8cc0" stroke-width="0.8" />
<line x1="55.3" y1="418.2" x2="55.3" y2="424.8" stroke="#5a8cc0" stroke-width="0.8" />
<line x1="59.6" y1="418.2" x2="59.6" y2="424.8" stroke="#5a8cc0" stroke-width="0.8" />
<line x1="127.75" y1="418.2" x2="127.75" y2="424.8" stroke="#5a8cc0" stroke-width="0.8" />
<line x1="138.75" y1="418.2" x2="138.75" y2="424.8" stroke="#5a8cc0" stroke-width="0.8" />
<line x1="148.5" y1="418.2" x2="148.5" y2="424.8" stroke="#5a8cc0" stroke-width="0.8" />
<line x1="169.4" y1="418.2" x2="169.4" y2="424.8" stroke="#5a8cc0" stroke-width="0.8" />
<line x1="178.6" y1="418.2" x2="178.6" y2="424.8" stroke="#5a8cc0" stroke-width="0.8" />
<line x1="178.8" y1="424.8" x2="69.8" y2="445.2" stroke="#333333" stroke-width="0.9" />
<line x1="178.8" y1="424.6" x2="150.9" y2="445" stroke="#333333" stroke-width="0.9" />
<text x="68.2" y="452" stroke="#231f20" stroke-width="0.2" textLength="36.3" lengthAdjust="spacingAndGlyphs" font-size="6.1">TCGTACAAA</text>
<text x="112.7" y="452" stroke="#231f20" stroke-width="0.2" textLength="38.6" lengthAdjust="spacingAndGlyphs" font-size="6.1">AGCTGGTAA</text>
<line x1="106.6" y1="449.9" x2="108.2" y2="449.9" stroke="#e88aa0" stroke-width="0.9" />
<line x1="109.7" y1="449.9" x2="111.3" y2="449.9" stroke="#e88aa0" stroke-width="0.9" />
<text x="67.9" y="478.8" stroke="#231f20" stroke-width="0.2" textLength="82.5" lengthAdjust="spacingAndGlyphs" font-size="6.1">TCGTACAAATCAGCTGGTAA</text>
<text x="34.4" y="465.7" stroke="#231f20" stroke-width="0.2" textLength="10.4" lengthAdjust="spacingAndGlyphs" font-size="6">WT</text>
<text x="46.8" y="465.7" textLength="14" lengthAdjust="spacingAndGlyphs" font-size="5.6" fill="#555" stroke="none">allele</text>
<text x="34" y="494.7" stroke="#231f20" stroke-width="0.2" textLength="10.9" lengthAdjust="spacingAndGlyphs" font-size="6">INS</text>
<text x="46.8" y="494.7" textLength="14" lengthAdjust="spacingAndGlyphs" font-size="5.6" fill="#555" stroke="none">allele</text>
<line x1="67.5" y1="471.4" x2="105.5" y2="471.4" stroke="#e0587a" stroke-width="1" />
<path d="M67.5 470.64L67.75 470L68 469.03L68.25 467.72L68.5 466.15L68.75 464.53L69 463.16L69.25 462.34L69.5 462.26L69.75 462.95L70 464.23L70.25 465.82L70.5 467.42L70.75 468.79L71 469.84L71.25 470.54L71.5 470.97L71.75 471.2L72 471.31 M79.28 471.36L79.53 471.29L79.78 471.16L80.03 470.9L80.28 470.44L80.53 469.74L80.78 468.76L81.03 467.54L81.28 466.23L81.53 465.05L81.78 464.24L82.03 464L82.28 464.39L82.53 465.31L82.78 466.54L83.03 467.85L83.28 469.02L83.53 469.94L83.78 470.57L84.03 470.97L84.28 471.2L84.53 471.31" stroke="#e0587a" stroke-width="1" fill="none" stroke-linejoin="round"/>
<path d="M70.78 471.33L71.03 471.23L71.28 471.02L71.53 470.61L71.78 469.9L72.03 468.8L72.28 467.26L72.53 465.35L72.78 463.3L73.03 461.44L73.28 460.18L73.53 459.81L73.78 460.41L74.03 461.85L74.28 463.79L74.53 465.83L74.78 467.67L75.03 469.1L75.28 470.11L75.53 470.73L75.78 471.08L76.03 471.26 M87.88 471.35L88.13 471.28L88.38 471.12L88.63 470.82L88.88 470.3L89.13 469.49L89.38 468.37L89.63 466.97L89.88 465.46L90.13 464.1L90.38 463.18L90.63 462.91L90.88 463.35L91.13 464.4L91.38 465.82L91.63 467.32L91.88 468.66L92.13 469.72L92.38 470.45L92.63 470.91L92.88 471.17L93.13 471.3" stroke="#3f73b5" stroke-width="1" fill="none" stroke-linejoin="round"/>
<path d="M74.68 471.36L74.93 471.3L75.18 471.19L75.43 470.96L75.68 470.56L75.93 469.94L76.18 469.08L76.43 468.01L76.68 466.86L76.93 465.82L77.18 465.11L77.43 464.9L77.68 465.24L77.93 466.05L78.18 467.13L78.43 468.28L78.68 469.31L78.93 470.11L79.18 470.67L79.43 471.02L79.68 471.22L79.93 471.32" stroke="#8552a8" stroke-width="1" fill="none" stroke-linejoin="round"/>
<path d="M83.58 471.33L83.83 471.24L84.08 471.03L84.33 470.64L84.58 469.97L84.83 468.91L85.08 467.44L85.33 465.61L85.58 463.65L85.83 461.87L86.08 460.67L86.33 460.31L86.58 460.89L86.83 462.26L87.08 464.11L87.33 466.07L87.58 467.83L87.83 469.2L88.08 470.16L88.33 470.76L88.58 471.1L88.83 471.27 M91.78 471.36L92.03 471.29L92.28 471.16L92.53 470.9L92.78 470.44L93.03 469.74L93.28 468.76L93.53 467.54L93.78 466.23L94.03 465.05L94.28 464.24L94.53 464L94.78 464.39L95.03 465.31L95.28 466.54L95.53 467.85L95.78 469.02L96.03 469.94L96.28 470.57L96.53 470.97L96.78 471.2L97.03 471.31 M95.88 471.35L96.13 471.28L96.38 471.13L96.63 470.83L96.88 470.33L97.13 469.54L97.38 468.44L97.63 467.07L97.88 465.6L98.13 464.28L98.38 463.37L98.63 463.11L98.88 463.54L99.13 464.57L99.38 465.95L99.63 467.42L99.88 468.73L100.13 469.76L100.38 470.47L100.63 470.92L100.88 471.17L101.13 471.3 M100.48 471.36L100.73 471.29L100.98 471.16L101.23 470.9L101.48 470.44L101.73 469.74L101.98 468.76L102.23 467.54L102.48 466.23L102.73 465.05L102.98 464.24L103.23 464L103.48 464.39L103.73 465.31L103.98 466.54L104.23 467.85L104.48 469.02L104.73 469.94L104.98 470.57L105.23 470.97L105.48 471.2" stroke="#5cc65c" stroke-width="1" fill="none" stroke-linejoin="round"/>
<line x1="113.5" y1="471.4" x2="151.5" y2="471.4" stroke="#e0587a" stroke-width="1" />
<path d="M113.5 470.59L113.75 469.9L114 468.85L114.25 467.44L114.5 465.75L114.75 464.01L115 462.54L115.25 461.65L115.5 461.57L115.75 462.3L116 463.68L116.25 465.4L116.5 467.11L116.75 468.6L117 469.72L117.25 470.47L117.5 470.93L117.75 471.18L118 471.31 M142.18 471.34L142.43 471.25L142.68 471.07L142.93 470.73L143.18 470.12L143.43 469.18L143.68 467.87L143.93 466.24L144.18 464.48L144.43 462.9L144.68 461.83L144.93 461.51L145.18 462.02L145.43 463.25L145.68 464.9L145.93 466.65L146.18 468.21L146.43 469.44L146.68 470.29L146.93 470.83L147.18 471.13L147.43 471.28 M146.68 471.35L146.93 471.27L147.18 471.11L147.43 470.79L147.68 470.25L147.93 469.41L148.18 468.22L148.43 466.76L148.68 465.18L148.93 463.76L149.18 462.79L149.43 462.51L149.68 462.97L149.93 464.07L150.18 465.56L150.43 467.13L150.68 468.54L150.93 469.64L151.18 470.41L151.43 470.89" stroke="#5cc65c" stroke-width="1" fill="none" stroke-linejoin="round"/>
<path d="M116.78 471.36L117.03 471.3L117.28 471.17L117.53 470.92L117.78 470.48L118.03 469.81L118.28 468.87L118.53 467.7L118.78 466.44L119.03 465.31L119.28 464.53L119.53 464.3L119.78 464.67L120.03 465.55L120.28 466.74L120.53 467.99L120.78 469.12L121.03 469.99L121.28 470.61L121.53 470.99L121.78 471.21L122.03 471.32 M129.78 471.31L130.03 471.18L130.28 470.9L130.53 470.37L130.78 469.45L131.03 468.02L131.28 466.01L131.53 463.53L131.78 460.85L132.03 458.44L132.28 456.8L132.53 456.31L132.78 457.1L133.03 458.97L133.28 461.49L133.53 464.15L133.78 466.54L134.03 468.41L134.28 469.71L134.53 470.53L134.78 470.99L135.03 471.22 M133.88 471.32L134.13 471.22L134.38 470.98L134.63 470.54L134.88 469.77L135.13 468.58L135.38 466.9L135.63 464.83L135.88 462.6L136.13 460.59L136.38 459.22L136.63 458.81L136.88 459.47L137.13 461.03L137.38 463.13L137.63 465.35L137.88 467.35L138.13 468.91L138.38 469.99L138.63 470.67L138.88 471.05L139.13 471.25" stroke="#8552a8" stroke-width="1" fill="none" stroke-linejoin="round"/>
<path d="M121.18 471.34L121.43 471.25L121.68 471.07L121.93 470.71L122.18 470.1L122.43 469.14L122.68 467.79L122.93 466.13L123.18 464.34L123.43 462.73L123.68 461.63L123.93 461.31L124.18 461.83L124.43 463.08L124.68 464.77L124.93 466.55L125.18 468.15L125.43 469.4L125.68 470.27L125.93 470.82L126.18 471.12L126.43 471.28" stroke="#3f73b5" stroke-width="1" fill="none" stroke-linejoin="round"/>
<path d="M125.38 471.34L125.63 471.25L125.88 471.07L126.13 470.73L126.38 470.12L126.63 469.18L126.88 467.87L127.13 466.24L127.38 464.48L127.63 462.9L127.88 461.83L128.13 461.51L128.38 462.02L128.63 463.25L128.88 464.9L129.13 466.65L129.38 468.21L129.63 469.44L129.88 470.29L130.13 470.83L130.38 471.13L130.63 471.28 M138.08 471.36L138.33 471.29L138.58 471.15L138.83 470.89L139.08 470.43L139.33 469.72L139.58 468.72L139.83 467.49L140.08 466.16L140.33 464.96L140.58 464.15L140.83 463.9L141.08 464.3L141.33 465.23L141.58 466.48L141.83 467.8L142.08 468.99L142.33 469.92L142.58 470.56L142.83 470.97L143.08 471.19L143.33 471.31" stroke="#e0587a" stroke-width="1" fill="none" stroke-linejoin="round"/>
<line x1="67.5" y1="499.7" x2="152" y2="499.7" stroke="#e0587a" stroke-width="1" />
<path d="M67.5 499.02L67.75 498.44L68 497.56L68.25 496.38L68.5 494.96L68.75 493.5L69 492.27L69.25 491.53L69.5 491.46L69.75 492.07L70 493.23L70.25 494.67L70.5 496.11L70.75 497.35L71 498.29L71.25 498.92L71.5 499.31L71.75 499.52L72 499.62 M79.58 499.66L79.83 499.59L80.08 499.46L80.33 499.2L80.58 498.74L80.83 498.04L81.08 497.06L81.33 495.84L81.58 494.53L81.83 493.35L82.08 492.54L82.33 492.3L82.58 492.69L82.83 493.61L83.08 494.84L83.33 496.15L83.58 497.32L83.83 498.24L84.08 498.87L84.33 499.27L84.58 499.5L84.83 499.61 M104.68 499.64L104.93 499.56L105.18 499.39L105.43 499.06L105.68 498.49L105.93 497.59L106.18 496.34L106.43 494.8L106.68 493.13L106.93 491.63L107.18 490.61L107.43 490.31L107.68 490.8L107.93 491.96L108.18 493.53L108.43 495.19L108.68 496.68L108.93 497.84L109.18 498.65L109.43 499.16L109.68 499.44L109.93 499.59 M125.38 499.64L125.63 499.56L125.88 499.38L126.13 499.04L126.38 498.45L126.63 497.53L126.88 496.24L127.13 494.64L127.38 492.92L127.63 491.38L127.88 490.32L128.13 490.01L128.38 490.51L128.63 491.71L128.88 493.33L129.13 495.05L129.38 496.58L129.63 497.78L129.88 498.62L130.13 499.14L130.38 499.43L130.63 499.58 M137.88 499.66L138.13 499.6L138.38 499.49L138.63 499.26L138.88 498.86L139.13 498.24L139.38 497.38L139.63 496.31L139.88 495.16L140.13 494.12L140.38 493.41L140.63 493.2L140.88 493.54L141.13 494.35L141.38 495.43L141.63 496.58L141.88 497.61L142.13 498.41L142.38 498.97L142.63 499.32L142.88 499.52L143.13 499.62" stroke="#e0587a" stroke-width="1" fill="none" stroke-linejoin="round"/>
<path d="M70.78 499.64L71.03 499.54L71.28 499.35L71.53 498.98L71.78 498.33L72.03 497.32L72.28 495.92L72.53 494.17L72.78 492.3L73.03 490.6L73.28 489.45L73.53 489.11L73.78 489.66L74.03 490.97L74.28 492.74L74.53 494.61L74.78 496.29L75.03 497.6L75.28 498.52L75.53 499.09L75.78 499.41L76.03 499.57 M87.88 499.65L88.13 499.58L88.38 499.44L88.63 499.15L88.88 498.67L89.13 497.91L89.38 496.84L89.63 495.53L89.88 494.11L90.13 492.83L90.38 491.96L90.63 491.7L90.88 492.12L91.13 493.11L91.38 494.45L91.63 495.86L91.88 497.13L92.13 498.12L92.38 498.81L92.63 499.24L92.88 499.48L93.13 499.6 M93.28 499.68L93.53 499.65L93.78 499.59L94.03 499.48L94.28 499.29L94.53 498.98L94.78 498.56L95.03 498.03L95.28 497.46L95.53 496.95L95.78 496.61L96.03 496.5L96.28 496.67L96.53 497.07L96.78 497.6L97.03 498.16L97.28 498.67L97.53 499.07L97.78 499.34L98.03 499.52L98.28 499.61L98.53 499.66 M108.78 499.65L109.03 499.58L109.28 499.42L109.53 499.13L109.78 498.62L110.03 497.82L110.28 496.7L110.53 495.32L110.78 493.83L111.03 492.49L111.28 491.58L111.53 491.31L111.78 491.74L112.03 492.78L112.28 494.19L112.53 495.67L112.78 497L113.03 498.04L113.28 498.76L113.53 499.21L113.78 499.47L114.03 499.6 M110.78 499.67L111.03 499.62L111.28 499.53L111.53 499.35L111.78 499.03L112.03 498.53L112.28 497.84L112.53 496.99L112.78 496.07L113.03 495.24L113.28 494.67L113.53 494.5L113.78 494.77L114.03 495.42L114.28 496.29L114.53 497.2L114.78 498.03L115.03 498.67L115.28 499.12L115.53 499.4L115.78 499.56L116.03 499.64 M121.08 499.65L121.33 499.58L121.58 499.43L121.83 499.14L122.08 498.64L122.33 497.86L122.58 496.77L122.83 495.42L123.08 493.97L123.33 492.66L123.58 491.77L123.83 491.51L124.08 491.93L124.33 492.95L124.58 494.32L124.83 495.76L125.08 497.06L125.33 498.08L125.58 498.78L125.83 499.23L126.08 499.48L126.33 499.6" stroke="#3f73b5" stroke-width="1" fill="none" stroke-linejoin="round"/>
<path d="M74.98 499.66L75.23 499.61L75.48 499.5L75.73 499.29L75.98 498.93L76.23 498.36L76.48 497.56L76.73 496.57L76.98 495.51L77.23 494.55L77.48 493.9L77.73 493.7L77.98 494.02L78.23 494.76L78.48 495.76L78.73 496.82L78.98 497.77L79.23 498.51L79.48 499.03L79.73 499.35L79.98 499.54L80.23 499.63 M116.88 499.68L117.13 499.64L117.38 499.57L117.63 499.43L117.88 499.2L118.13 498.83L118.38 498.31L118.63 497.67L118.88 496.98L119.13 496.35L119.38 495.93L119.63 495.8L119.88 496.01L120.13 496.49L120.38 497.14L120.63 497.83L120.88 498.44L121.13 498.93L121.38 499.26L121.63 499.47L121.88 499.59L122.13 499.65 M129.68 499.62L129.93 499.5L130.18 499.25L130.43 498.78L130.68 497.96L130.93 496.67L131.18 494.88L131.43 492.66L131.68 490.27L131.93 488.11L132.18 486.64L132.43 486.21L132.68 486.91L132.93 488.59L133.18 490.84L133.43 493.22L133.68 495.36L133.93 497.03L134.18 498.19L134.43 498.92L134.68 499.33L134.93 499.54 M133.78 499.63L134.03 499.52L134.28 499.3L134.53 498.88L134.78 498.14L135.03 496.99L135.28 495.38L135.53 493.39L135.78 491.25L136.03 489.32L136.28 488L136.53 487.61L136.78 488.24L137.03 489.74L137.28 491.76L137.53 493.89L137.78 495.81L138.03 497.31L138.28 498.35L138.53 499L138.78 499.37L139.03 499.56" stroke="#8552a8" stroke-width="1" fill="none" stroke-linejoin="round"/>
<path d="M83.68 499.64L83.93 499.55L84.18 499.36L84.43 498.99L84.68 498.36L84.93 497.37L85.18 495.99L85.43 494.28L85.68 492.44L85.93 490.77L86.18 489.64L86.43 489.31L86.68 489.85L86.93 491.14L87.18 492.87L87.43 494.71L87.68 496.35L87.93 497.64L88.18 498.54L88.43 499.1L88.68 499.42L88.93 499.58 M91.78 499.66L92.03 499.6L92.28 499.49L92.53 499.26L92.78 498.86L93.03 498.24L93.28 497.38L93.53 496.31L93.78 495.16L94.03 494.12L94.28 493.41L94.53 493.2L94.78 493.54L95.03 494.35L95.28 495.43L95.53 496.58L95.78 497.61L96.03 498.41L96.28 498.97L96.53 499.32L96.78 499.52L97.03 499.62 M95.88 499.65L96.13 499.57L96.38 499.41L96.63 499.1L96.88 498.56L97.13 497.73L97.38 496.56L97.63 495.11L97.88 493.55L98.13 492.15L98.38 491.19L98.63 490.91L98.88 491.36L99.13 492.45L99.38 493.92L99.63 495.48L99.88 496.87L100.13 497.96L100.38 498.72L100.63 499.19L100.88 499.46L101.13 499.6 M99.58 499.66L99.83 499.59L100.08 499.46L100.33 499.2L100.58 498.74L100.83 498.04L101.08 497.06L101.33 495.84L101.58 494.53L101.83 493.35L102.08 492.54L102.33 492.3L102.58 492.69L102.83 493.61L103.08 494.84L103.33 496.15L103.58 497.32L103.83 498.24L104.08 498.87L104.33 499.27L104.58 499.5L104.83 499.61 M112.68 499.66L112.93 499.59L113.18 499.45L113.43 499.19L113.68 498.73L113.93 498.02L114.18 497.02L114.43 495.79L114.68 494.46L114.93 493.26L115.18 492.45L115.43 492.2L115.68 492.6L115.93 493.53L116.18 494.78L116.43 496.1L116.68 497.29L116.93 498.22L117.18 498.86L117.43 499.27L117.68 499.49L117.93 499.61 M142.18 499.65L142.43 499.57L142.68 499.4L142.93 499.07L143.18 498.51L143.43 497.64L143.68 496.42L143.93 494.9L144.18 493.27L144.43 491.8L144.68 490.8L144.93 490.51L145.18 490.99L145.43 492.13L145.68 493.66L145.93 495.28L146.18 496.74L146.43 497.88L146.68 498.67L146.93 499.17L147.18 499.45L147.43 499.59 M146.48 499.65L146.73 499.58L146.98 499.42L147.23 499.13L147.48 498.62L147.73 497.82L147.98 496.7L148.23 495.32L148.48 493.83L148.73 492.49L148.98 491.58L149.23 491.31L149.48 491.74L149.73 492.78L149.98 494.19L150.23 495.67L150.48 497L150.73 498.04L150.98 498.76L151.23 499.21L151.48 499.47L151.73 499.6" stroke="#5cc65c" stroke-width="1" fill="none" stroke-linejoin="round"/>
<text x="201.6" y="383.1" font-weight="bold" font-size="11" fill="#000" stroke="#000" stroke-width="0.45">G</text>
<text x="283.6" y="383.1" stroke="#231f20" stroke-width="0.2" textLength="56" lengthAdjust="spacingAndGlyphs" font-size="9">Nalm6 (72hr)</text>
<line x1="241.1" y1="392.6" x2="251.1" y2="392.6" stroke="#0f4c81" stroke-width="1.1" />
<circle cx="246.2" cy="392.6" r="1.5" fill="#0f4c81"/>
<text x="254.2" y="395.0" font-size="7.6" font-style="italic" stroke="#231f20" stroke-width="0.2"><tspan textLength="33" lengthAdjust="spacingAndGlyphs">SLC7A11</tspan><tspan font-size="5.6" dy="-3.2">wt/ins</tspan></text>
<line x1="241.1" y1="402.8" x2="251.1" y2="402.8" stroke="#c8102e" stroke-width="1.1" />
<circle cx="246.2" cy="402.8" r="1.5" fill="#c8102e"/>
<text x="254.2" y="405.2" font-size="7.6" font-style="italic" stroke="#231f20" stroke-width="0.2"><tspan textLength="33" lengthAdjust="spacingAndGlyphs">SLC7A11</tspan><tspan font-size="5.6" dy="-3.2">wt/wt</tspan></text>
<line x1="233.3" y1="397.9" x2="233.3" y2="491.9" stroke="#231f20" stroke-width="1.3" />
<line x1="230.3" y1="491.4" x2="233.3" y2="491.4" stroke="#231f20" stroke-width="1.3" />
<text x="227.4" y="494.19" text-anchor="end" stroke="#231f20" stroke-width="0.2" font-size="7.8">0</text>
<line x1="230.3" y1="476.35" x2="233.3" y2="476.35" stroke="#231f20" stroke-width="1.3" />
<text x="227.4" y="479.14" text-anchor="end" stroke="#231f20" stroke-width="0.2" font-size="7.8">20</text>
<line x1="230.3" y1="461.3" x2="233.3" y2="461.3" stroke="#231f20" stroke-width="1.3" />
<text x="227.4" y="464.09" text-anchor="end" stroke="#231f20" stroke-width="0.2" font-size="7.8">40</text>
<line x1="230.3" y1="446.25" x2="233.3" y2="446.25" stroke="#231f20" stroke-width="1.3" />
<text x="227.4" y="449.04" text-anchor="end" stroke="#231f20" stroke-width="0.2" font-size="7.8">60</text>
<line x1="230.3" y1="431.2" x2="233.3" y2="431.2" stroke="#231f20" stroke-width="1.3" />
<text x="227.4" y="433.99" text-anchor="end" stroke="#231f20" stroke-width="0.2" font-size="7.8">80</text>
<line x1="230.3" y1="416.15" x2="233.3" y2="416.15" stroke="#231f20" stroke-width="1.3" />
<text x="227.4" y="418.94" text-anchor="end" stroke="#231f20" stroke-width="0.2" font-size="7.8">100</text>
<line x1="230.3" y1="401.1" x2="233.3" y2="401.1" stroke="#231f20" stroke-width="1.3" />
<text x="227.4" y="403.89" text-anchor="end" stroke="#231f20" stroke-width="0.2" font-size="7.8">120</text>
<line x1="232.75" y1="491.4" x2="297.5" y2="491.4" stroke="#231f20" stroke-width="1.25" />
<line x1="233.82" y1="491.4" x2="233.82" y2="494.2" stroke="#231f20" stroke-width="1.2" />
<text x="232.12" y="502.9" text-anchor="middle" stroke="#231f20" stroke-width="0.2" font-size="7.7">&#8722;8</text>
<line x1="245.94" y1="491.4" x2="245.94" y2="494.2" stroke="#231f20" stroke-width="1.2" />
<text x="244.24" y="502.9" text-anchor="middle" stroke="#231f20" stroke-width="0.2" font-size="7.7">&#8722;6</text>
<line x1="258.06" y1="491.4" x2="258.06" y2="494.2" stroke="#231f20" stroke-width="1.2" />
<text x="256.36" y="502.9" text-anchor="middle" stroke="#231f20" stroke-width="0.2" font-size="7.7">&#8722;4</text>
<line x1="270.18" y1="491.4" x2="270.18" y2="494.2" stroke="#231f20" stroke-width="1.2" />
<text x="268.48" y="502.9" text-anchor="middle" stroke="#231f20" stroke-width="0.2" font-size="7.7">&#8722;2</text>
<line x1="282.3" y1="491.4" x2="282.3" y2="494.2" stroke="#231f20" stroke-width="1.2" />
<text x="282.3" y="502.9" text-anchor="middle" stroke="#231f20" stroke-width="0.2" font-size="7.7">0</text>
<line x1="294.42" y1="491.4" x2="294.42" y2="494.2" stroke="#231f20" stroke-width="1.2" />
<text x="294.42" y="502.9" text-anchor="middle" stroke="#231f20" stroke-width="0.2" font-size="7.7">2</text>
<text x="236.4" y="515.4" font-size="8" stroke="#231f20" stroke-width="0.3" textLength="53.7" lengthAdjust="spacingAndGlyphs">log<tspan font-size="5.5" dy="1.8">10</tspan><tspan dy="-1.8"> LASP, IU/ml</tspan></text>
<text transform="translate(207.4 447.8) rotate(-90)" text-anchor="middle" stroke="#231f20" stroke-width="0.38" textLength="100.2" lengthAdjust="spacingAndGlyphs" font-size="7.4">% Viability (relative to no vehicle)</text>
<path d="M244.6 418.6 C245.43 419.25 248.05 421.47 249.6 422.5 C251.15 423.53 252.67 423.38 253.9 424.8 C255.13 426.22 256.1 428.82 257 431 C257.9 433.18 258.63 435.4 259.3 437.9 C259.97 440.4 260.42 443.15 261 446 C261.58 448.85 262.2 452.2 262.8 455 C263.4 457.8 263.97 460.3 264.6 462.8 C265.23 465.3 265.9 467.55 266.6 470 C267.3 472.45 268.07 475.37 268.8 477.5 C269.53 479.63 269.97 481.25 271 482.8 C272.03 484.35 273.67 485.85 275 486.8 C276.33 487.75 277.67 488.05 279 488.5 C280.33 488.95 281.45 489.18 283 489.5 C284.55 489.82 287.42 490.25 288.3 490.4" stroke="#c8102e" stroke-width="1.2" fill="none" />
<path d="M245.6 413.3 C246.6 413.35 249.97 413.22 251.6 413.6 C253.23 413.98 254.32 414.43 255.4 415.6 C256.48 416.77 257.27 418.42 258.1 420.6 C258.93 422.78 259.68 425.3 260.4 428.7 C261.12 432.1 261.72 436.53 262.4 441 C263.08 445.47 263.8 450.75 264.5 455.5 C265.2 460.25 265.92 465.5 266.6 469.5 C267.28 473.5 267.87 476.87 268.6 479.5 C269.33 482.13 269.93 483.78 271 485.3 C272.07 486.82 273.67 487.85 275 488.6 C276.33 489.35 277.67 489.5 279 489.8 C280.33 490.1 281.45 490.23 283 490.4 C284.55 490.57 287.42 490.73 288.3 490.8" stroke="#0f4c81" stroke-width="1.2" fill="none" />
<line x1="249.6" y1="419.8" x2="249.6" y2="426.7" stroke="#222" stroke-width="0.8" />
<line x1="248.5" y1="419.8" x2="250.7" y2="419.8" stroke="#222" stroke-width="0.8" />
<line x1="248.5" y1="426.7" x2="250.7" y2="426.7" stroke="#222" stroke-width="0.8" />
<line x1="262.4" y1="437" x2="262.4" y2="442.6" stroke="#222" stroke-width="0.8" />
<line x1="261.3" y1="437" x2="263.5" y2="437" stroke="#222" stroke-width="0.8" />
<line x1="261.3" y1="442.6" x2="263.5" y2="442.6" stroke="#222" stroke-width="0.8" />
<line x1="261.9" y1="447.6" x2="261.9" y2="452.6" stroke="#222" stroke-width="0.8" />
<line x1="260.8" y1="447.6" x2="263" y2="447.6" stroke="#222" stroke-width="0.8" />
<line x1="260.8" y1="452.6" x2="263" y2="452.6" stroke="#222" stroke-width="0.8" />
<circle cx="245.6" cy="419.2" r="1.55" fill="#c8102e"/>
<circle cx="249.6" cy="422.9" r="1.55" fill="#c8102e"/>
<circle cx="253.9" cy="422.1" r="1.55" fill="#c8102e"/>
<circle cx="257.9" cy="436" r="1.55" fill="#c8102e"/>
<circle cx="261.9" cy="450.1" r="1.55" fill="#c8102e"/>
<circle cx="266.6" cy="470.3" r="1.55" fill="#c8102e"/>
<circle cx="271.2" cy="485" r="1.55" fill="#c8102e"/>
<circle cx="275" cy="486.7" r="1.55" fill="#c8102e"/>
<circle cx="279.2" cy="487.5" r="1.55" fill="#c8102e"/>
<circle cx="283.3" cy="489.3" r="1.55" fill="#c8102e"/>
<circle cx="287.5" cy="491" r="1.55" fill="#c8102e"/>
<circle cx="245.6" cy="417.5" r="1.55" fill="#0f4c81"/>
<circle cx="249.9" cy="409.4" r="1.55" fill="#0f4c81"/>
<circle cx="254" cy="412.1" r="1.55" fill="#0f4c81"/>
<circle cx="258.3" cy="423.3" r="1.55" fill="#0f4c81"/>
<circle cx="262.4" cy="439.9" r="1.55" fill="#0f4c81"/>
<circle cx="266.6" cy="470.3" r="1.55" fill="#0f4c81"/>
<circle cx="270.7" cy="486" r="1.55" fill="#0f4c81"/>
<circle cx="275" cy="488.5" r="1.55" fill="#0f4c81"/>
<circle cx="279.2" cy="489.5" r="1.55" fill="#0f4c81"/>
<circle cx="283.3" cy="490.2" r="1.55" fill="#0f4c81"/>
<circle cx="287.5" cy="491.2" r="1.55" fill="#0f4c81"/>
<rect x="344" y="440.7" width="16.6" height="50.7" fill="#c8102e"/>
<rect x="367.9" y="425.3" width="16.1" height="66.1" fill="#0f4c81"/>
<line x1="352.3" y1="440.7" x2="352.3" y2="438.4" stroke="#231f20" stroke-width="1" />
<line x1="348.35" y1="438.4" x2="356.25" y2="438.4" stroke="#231f20" stroke-width="1" />
<line x1="375.95" y1="425.3" x2="375.95" y2="423.4" stroke="#231f20" stroke-width="1" />
<line x1="372" y1="423.4" x2="379.9" y2="423.4" stroke="#231f20" stroke-width="1" />
<line x1="338" y1="397.2" x2="338" y2="491.9" stroke="#231f20" stroke-width="1.3" />
<line x1="335" y1="491.4" x2="338" y2="491.4" stroke="#231f20" stroke-width="1.3" />
<text x="332.3" y="494.08" text-anchor="end" stroke="#231f20" stroke-width="0.2" textLength="13.76" lengthAdjust="spacingAndGlyphs" font-size="7.5">600</text>
<line x1="335" y1="468.75" x2="338" y2="468.75" stroke="#231f20" stroke-width="1.3" />
<text x="332.3" y="471.44" text-anchor="end" stroke="#231f20" stroke-width="0.2" textLength="13.76" lengthAdjust="spacingAndGlyphs" font-size="7.5">700</text>
<line x1="335" y1="446.1" x2="338" y2="446.1" stroke="#231f20" stroke-width="1.3" />
<text x="332.3" y="448.78" text-anchor="end" stroke="#231f20" stroke-width="0.2" textLength="13.76" lengthAdjust="spacingAndGlyphs" font-size="7.5">800</text>
<line x1="335" y1="423.45" x2="338" y2="423.45" stroke="#231f20" stroke-width="1.3" />
<text x="332.3" y="426.13" text-anchor="end" stroke="#231f20" stroke-width="0.2" textLength="13.76" lengthAdjust="spacingAndGlyphs" font-size="7.5">900</text>
<line x1="335" y1="400.8" x2="338" y2="400.8" stroke="#231f20" stroke-width="1.3" />
<text x="332.3" y="403.48" text-anchor="end" stroke="#231f20" stroke-width="0.2" textLength="18.35" lengthAdjust="spacingAndGlyphs" font-size="7.5">1000</text>
<line x1="337.45" y1="491.4" x2="390.4" y2="491.4" stroke="#231f20" stroke-width="1.25" />
<line x1="352.3" y1="491.4" x2="352.3" y2="494.2" stroke="#231f20" stroke-width="1.2" />
<line x1="375.95" y1="491.4" x2="375.95" y2="494.2" stroke="#231f20" stroke-width="1.2" />
<text x="346.6" y="410.1" stroke="#231f20" stroke-width="0.2" textLength="32.7" lengthAdjust="spacingAndGlyphs" font-size="7.1">p=.0042</text>
<path d="M351.9 416.1 V412.4 H375.8 V416.1" stroke="#231f20" stroke-width="1.1" fill="none" />
<text transform="translate(308.8 446.5) rotate(-90)" text-anchor="middle" stroke="#231f20" stroke-width="0.5" textLength="13.1" lengthAdjust="spacingAndGlyphs" font-size="9.5">AUC</text>
<text transform="translate(354.0 503.0) rotate(-45)" text-anchor="end" font-size="8.8" font-style="italic" stroke="#231f20" stroke-width="0.2">SLC7A11<tspan font-size="5.6" dy="-3.6">wt/wt</tspan></text>
<text transform="translate(377.6 503.0) rotate(-45)" text-anchor="end" font-size="8.8" font-style="italic" stroke="#231f20" stroke-width="0.2">SLC7A11<tspan font-size="5.6" dy="-3.6">wt/ins</tspan></text>
<text x="400" y="383.2" font-weight="bold" font-size="11" fill="#000" stroke="#000" stroke-width="0.45">H</text>
<text x="446.5" y="383.3" stroke="#231f20" stroke-width="0.2" textLength="56.2" lengthAdjust="spacingAndGlyphs" font-size="9">Nalm6 (72hr)</text>
<rect x="443.1" y="434.9" width="8.9" height="56.9" fill="#c8102e"/>
<rect x="458.2" y="428.6" width="8.9" height="63.2" fill="#0f4c81"/>
<rect x="482" y="434.9" width="9.2" height="56.9" fill="#c8102e"/>
<rect x="497.2" y="420.8" width="8.9" height="71" fill="#0f4c81"/>
<line x1="444.95" y1="434.6" x2="450.15" y2="434.6" stroke="#231f20" stroke-width="0.9" />
<line x1="460.05" y1="428.3" x2="465.25" y2="428.3" stroke="#231f20" stroke-width="0.9" />
<line x1="484" y1="434.6" x2="489.2" y2="434.6" stroke="#231f20" stroke-width="0.9" />
<line x1="499.05" y1="420.5" x2="504.25" y2="420.5" stroke="#231f20" stroke-width="0.9" />
<line x1="438.8" y1="398.4" x2="438.8" y2="492.3" stroke="#231f20" stroke-width="1.3" />
<line x1="435.8" y1="491.8" x2="438.8" y2="491.8" stroke="#231f20" stroke-width="1.3" />
<text x="434.3" y="494.59" text-anchor="end" stroke="#231f20" stroke-width="0.2" font-size="7.8">0</text>
<line x1="435.8" y1="480.5" x2="438.8" y2="480.5" stroke="#231f20" stroke-width="1.3" />
<text x="434.3" y="483.29" text-anchor="end" stroke="#231f20" stroke-width="0.2" font-size="7.8">0.2</text>
<line x1="435.8" y1="469.2" x2="438.8" y2="469.2" stroke="#231f20" stroke-width="1.3" />
<text x="434.3" y="471.99" text-anchor="end" stroke="#231f20" stroke-width="0.2" font-size="7.8">0.4</text>
<line x1="435.8" y1="457.9" x2="438.8" y2="457.9" stroke="#231f20" stroke-width="1.3" />
<text x="434.3" y="460.69" text-anchor="end" stroke="#231f20" stroke-width="0.2" font-size="7.8">0.6</text>
<line x1="435.8" y1="446.6" x2="438.8" y2="446.6" stroke="#231f20" stroke-width="1.3" />
<text x="434.3" y="449.39" text-anchor="end" stroke="#231f20" stroke-width="0.2" font-size="7.8">0.8</text>
<line x1="435.8" y1="435.3" x2="438.8" y2="435.3" stroke="#231f20" stroke-width="1.3" />
<text x="434.3" y="438.09" text-anchor="end" stroke="#231f20" stroke-width="0.2" font-size="7.8">1</text>
<line x1="435.8" y1="424" x2="438.8" y2="424" stroke="#231f20" stroke-width="1.3" />
<text x="434.3" y="426.79" text-anchor="end" stroke="#231f20" stroke-width="0.2" font-size="7.8">1.2</text>
<line x1="435.8" y1="412.7" x2="438.8" y2="412.7" stroke="#231f20" stroke-width="1.3" />
<text x="434.3" y="415.49" text-anchor="end" stroke="#231f20" stroke-width="0.2" font-size="7.8">1.4</text>
<line x1="435.8" y1="401.4" x2="438.8" y2="401.4" stroke="#231f20" stroke-width="1.3" />
<text x="434.3" y="404.19" text-anchor="end" stroke="#231f20" stroke-width="0.2" font-size="7.8">1.6</text>
<line x1="438.25" y1="491.8" x2="508" y2="491.8" stroke="#231f20" stroke-width="1.25" />
<line x1="455.1" y1="491.8" x2="455.1" y2="494" stroke="#231f20" stroke-width="1.2" />
<line x1="494.1" y1="491.8" x2="494.1" y2="494" stroke="#231f20" stroke-width="1.2" />
<text x="444.9" y="413.8" stroke="#231f20" stroke-width="0.2" textLength="22.1" lengthAdjust="spacingAndGlyphs" font-size="7.2">P=.02</text>
<line x1="447.8" y1="416.7" x2="462.6" y2="416.7" stroke="#231f20" stroke-width="1.1" />
<text x="480.8" y="413.8" stroke="#231f20" stroke-width="0.2" textLength="25.8" lengthAdjust="spacingAndGlyphs" font-size="7.2">P=.001</text>
<line x1="486.4" y1="416.7" x2="501.9" y2="416.7" stroke="#231f20" stroke-width="1.1" />
<text x="441" y="503.4" stroke="#231f20" stroke-width="0.2" textLength="26.1" lengthAdjust="spacingAndGlyphs" font-size="7.2">0.0001</text>
<text x="442.9" y="511.9" stroke="#231f20" stroke-width="0.2" textLength="23" lengthAdjust="spacingAndGlyphs" font-size="7.2">IU/mL</text>
<text x="480.1" y="503.4" stroke="#231f20" stroke-width="0.2" textLength="26.7" lengthAdjust="spacingAndGlyphs" font-size="7.2">0.0006</text>
<text x="482.5" y="511.9" stroke="#231f20" stroke-width="0.2" textLength="22.6" lengthAdjust="spacingAndGlyphs" font-size="7.2">IU/mL</text>
<rect x="446.7" y="520.6" width="6" height="6" fill="#c8102e"/>
<text x="456.2" y="526.4" font-size="7.4" font-style="italic" stroke="#231f20" stroke-width="0.2"><tspan textLength="32" lengthAdjust="spacingAndGlyphs">SLC7A11</tspan><tspan font-size="4.5" dy="-3">wt/wt</tspan></text>
<rect x="446.7" y="532.2" width="6" height="6" fill="#0f4c81"/>
<text x="456.2" y="537.6" font-size="7.4" font-style="italic" stroke="#231f20" stroke-width="0.2"><tspan textLength="32" lengthAdjust="spacingAndGlyphs">SLC7A11</tspan><tspan font-size="4.5" dy="-3">wt/ins</tspan></text>
<text transform="translate(406.1 446.9) rotate(-90)" text-anchor="middle" stroke="#231f20" stroke-width="0.45" textLength="74.3" lengthAdjust="spacingAndGlyphs" font-size="7.8">Cell viability fold change</text>
<text transform="translate(417.2 447.7) rotate(-90)" text-anchor="middle" stroke="#231f20" stroke-width="0.38" textLength="74.3" lengthAdjust="spacingAndGlyphs" font-size="8">(relative to control cells)</text>
</g>
<rect x="0.5" y="0.5" width="519" height="544" fill="none" stroke="#000" stroke-width="1"/>
</svg>
</body></html>
